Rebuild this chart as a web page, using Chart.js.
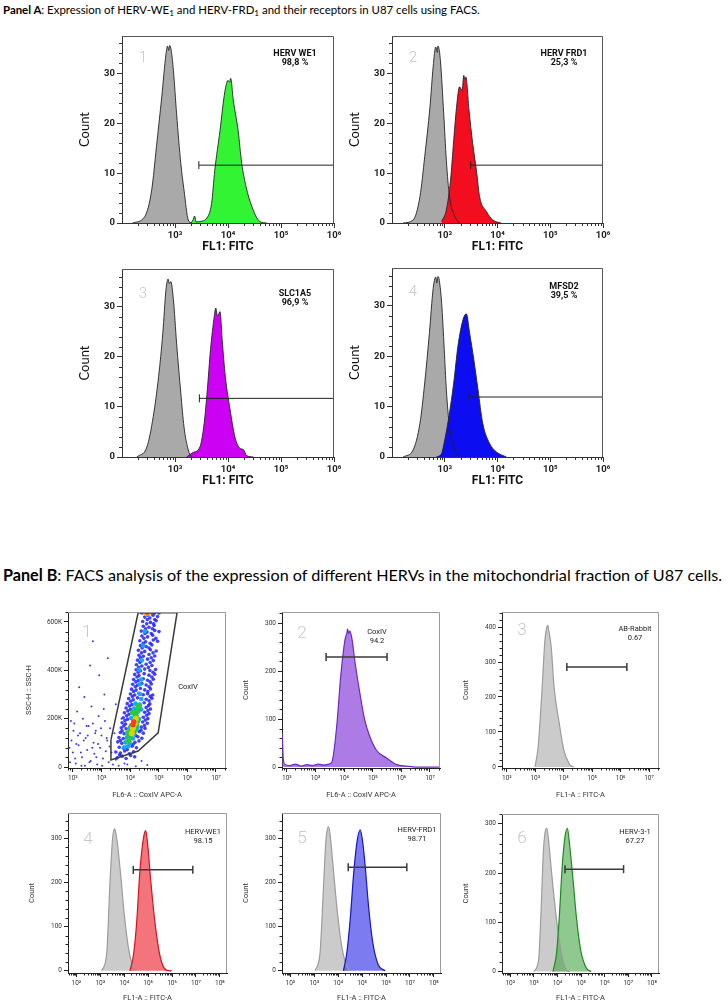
<!DOCTYPE html>
<html>
<head>
<meta charset="utf-8">
<title>FACS panels</title>
<script src="https://cdn.jsdelivr.net/npm/chart.js@4.4.1/dist/chart.umd.min.js"></script>
<style>
  html, body { margin: 0; padding: 0; background: #fff; }
  body { position: relative; width: 728px; height: 1003px; overflow: hidden; }
  canvas { position: absolute; }
  .panel-title { position: absolute; left: 3px; white-space: nowrap; font-family: Lato, 'Open Sans', sans-serif; color: #000; line-height: 1.2; }
  .panel-title sub { font-size: 0.72em; vertical-align: -0.3em; line-height: 0; }
</style>
</head>
<body>
<div class="panel-title" id="title-a"><b>Panel A</b>: Expression of HERV-WE<sub>1</sub> and HERV-FRD<sub>1</sub> and their receptors in U87 cells using FACS.</div>
<div class="panel-title" id="title-b"><b>Panel B</b>: FACS analysis of the expression of different HERVs in the mitochondrial fraction of U87 cells.</div>
<script>
// ---------- data (x = log10 of fluorescence, y = count) ----------

// Panel A tick labels
const aXDecades = [3, 4, 5, 6];
const aYTicks = [0, 10, 20, 30];
const aXRange = [2, 6];
const aYRange = [0, 37.5];

// Panel A histograms: [log10 FL1, count]
const a1Control = [[2.2,0],[2.43,1.3],[2.56,6.6],[2.65,15.3],[2.75,25.3],[2.83,33.9],[2.86,35.5],[2.88,34.6],[2.9,35.6],[2.93,34.5],[2.97,30.6],[3.03,21.9],[3.11,11.9],[3.17,6.6],[3.25,0.6],[3.31,0]];
const a1Stain = [[3.3,0],[3.34,0.6],[3.37,1.4],[3.4,0.2],[3.47,0.3],[3.6,1.0],[3.69,3.9],[3.75,10.5],[3.85,18.6],[3.94,26.3],[4.0,28.6],[4.03,28.2],[4.05,29],[4.1,24.6],[4.19,18.6],[4.26,11.9],[4.34,7.3],[4.45,3.3],[4.6,0.3],[4.73,0]];
const a2Control = [[2.21,0],[2.4,0.6],[2.53,5.3],[2.62,13.3],[2.72,23.3],[2.78,31.3],[2.83,35.3],[2.86,34.2],[2.87,35.5],[2.89,35],[2.92,32.3],[2.98,22],[3.03,12.6],[3.09,5.3],[3.19,1.3],[3.28,0]];
const a2Stain = [[2.94,0.3],[3.03,2.6],[3.11,8.6],[3.17,16.6],[3.23,23.9],[3.28,27.3],[3.33,26.6],[3.36,29.6],[3.38,28.8],[3.4,29.3],[3.46,22.6],[3.53,15.9],[3.6,10.6],[3.66,5.3],[3.79,2.3],[3.91,0.6],[4.07,0]];
const a3Control = [[2.28,0],[2.47,2],[2.59,8.1],[2.69,16],[2.77,24.7],[2.83,33.4],[2.87,35.5],[2.89,34.6],[2.92,35],[2.97,31.4],[3.03,22.7],[3.11,12.7],[3.17,6],[3.25,1.4],[3.31,0]];
const a3Stain = [[3.22,0],[3.34,0.9],[3.47,2],[3.55,6.7],[3.61,13.4],[3.67,21.4],[3.74,28],[3.77,29.7],[3.8,28.2],[3.82,28.4],[3.85,29],[3.89,23.4],[3.95,16],[4.04,9.4],[4.13,4],[4.23,1.7],[4.29,1.5],[4.35,0.3],[4.48,0]];
const a4Control = [[2.21,0],[2.4,1.4],[2.53,6.7],[2.62,14.7],[2.71,24.7],[2.78,33.4],[2.83,35.7],[2.85,34.5],[2.87,35.8],[2.89,35.4],[2.94,30.7],[2.99,21.4],[3.03,13.4],[3.09,6],[3.19,1.4],[3.28,0]];
const a4Stain = [[2.84,0],[2.94,0.7],[3.0,3.4],[3.08,8.1],[3.17,14.7],[3.25,22],[3.35,27.4],[3.41,28.4],[3.47,24.7],[3.55,19.4],[3.63,13.4],[3.72,6.7],[3.85,2.7],[3.98,1],[4.17,0]];

// Panel A gates: [start, end, level]
const a1Gate = [3.45, 6, 11.6];
const a2Gate = [3.49, 6, 11.6];
const a3Gate = [3.46, 6, 11.7];
const a4Gate = [3.46, 6, 11.9];

// Panel B tick labels
const bTopDecades = [2, 3, 4, 5, 6, 7];
const bBottomDecades = [2, 3, 4, 5, 6, 7, 8];
const bTopXRange = [1.83, 7.35];
const bBottomXRange = [1.65, 8.3];
const b1YTicks = [0, 200000, 400000, 600000];
const b2YTicks = [0, 100, 200, 300];
const b3YTicks = [0, 100, 200, 300, 400];
const bCountTicks = [0, 100, 200, 300];

// B1 dot plot: [log10 FL6, SSC-H in K]
const b1Sparse = [[1.88,80],[1.9,20],[1.93,190],[1.95,110],[2.0,60],[2.02,150],[2.05,180],[2.08,35],[2.1,15],[2.12,95],[2.15,230],[2.18,130],[2.2,90],[2.22,330],[2.25,140],[2.28,60],[2.3,5],[2.32,40],[2.35,200],[2.38,110],[2.4,290],[2.42,5],[2.45,120],[2.48,170],[2.5,70],[2.52,130],[2.55,170],[2.58,20],[2.6,420],[2.62,25],[2.65,250],[2.68,80],[2.7,180],[2.72,100],[2.75,55],[2.78,140],[2.8,150],[2.82,40],[2.85,10],[2.88,95],[2.9,210],[2.92,380],[2.95,80],[2.98,160],[3.0,130],[3.02,5],[3.05,35],[3.08,240],[3.1,300],[3.12,190],[3.15,65],[3.18,120],[3.2,110],[3.22,450],[3.25,20],[3.28,85],[3.3,160],[3.35,60],[3.4,10],[3.45,140],[3.5,30],[3.6,5],[3.8,15],[4.2,3],[4.6,8],[3.7,200],[3.5,260],[2.7,520],[3.9,10],[4.4,25]];
const b1Blue = [[3.55,38],[3.72,45],[3.86,35],[4.02,48],[4.16,42],[3.5,62],[3.66,58],[3.81,66],[3.97,55],[4.12,63],[3.62,82],[3.77,78],[4.07,86],[4.22,80],[3.57,104],[3.71,98],[4.17,102],[4.31,108],[3.61,122],[3.76,118],[4.27,125],[4.41,119],[3.66,143],[3.79,138],[4.32,146],[4.46,140],[3.69,162],[3.86,158],[4.39,165],[4.52,160],[3.72,183],[3.84,178],[4.44,186],[4.6,181],[3.76,204],[3.91,198],[4.46,206],[4.62,200],[3.8,224],[3.96,218],[4.51,226],[4.66,221],[3.86,244],[4.01,238],[4.56,246],[4.71,240],[3.9,262],[4.06,258],[4.49,266],[4.69,261],[3.95,283],[4.11,278],[4.26,286],[4.56,280],[4.76,284],[4.01,302],[4.16,298],[4.31,305],[4.46,299],[4.61,303],[4.79,298],[4.05,322],[4.21,318],[4.36,325],[4.51,319],[4.71,323],[4.09,342],[4.26,338],[4.41,345],[4.56,339],[4.74,343],[4.12,362],[4.29,358],[4.46,365],[4.61,359],[4.81,363],[4.16,383],[4.31,378],[4.49,386],[4.66,380],[4.86,384],[4.21,402],[4.36,398],[4.51,405],[4.69,399],[4.89,403],[4.22,423],[4.41,418],[4.56,425],[4.76,420],[4.26,442],[4.39,438],[4.61,446],[4.81,440],[4.31,462],[4.46,458],[4.66,465],[4.86,459],[4.29,483],[4.51,478],[4.71,485],[4.91,480],[4.36,502],[4.56,498],[4.76,505],[4.34,522],[4.54,518],[4.81,525],[4.96,520],[4.41,542],[4.61,538],[4.79,545],[4.39,562],[4.59,558],[4.86,565],[5.01,560],[4.46,582],[4.66,578],[4.84,585],[4.44,602],[4.71,598],[4.91,605],[4.51,620],[4.69,616],[4.96,622],[4.41,637],[4.56,637],[4.72,637],[4.86,637],[5.01,637],
    [3.63,50],[3.9,72],[4.1,94],[3.66,110],[4.2,130],[3.72,150],[4.38,152],[3.78,170],[4.5,172],[3.82,192],[4.53,194],[3.88,212],[4.58,214],[3.92,232],[4.62,234],[3.98,252],[4.64,254],[4.02,272],[4.66,274],[4.08,292],[4.7,292],[4.12,312],[4.62,312],[4.18,332],[4.66,332],[4.2,352],[4.7,352],[4.24,372],[4.76,372],[4.28,392],[4.8,392],[4.3,412],[4.64,412],[4.34,432],[4.7,432],[4.36,452],[4.74,452],[4.4,472],[4.8,472],[4.42,492],[4.66,492],[4.46,512],[4.7,512],[4.48,532],[4.9,532],[4.52,552],[4.74,552],[4.54,572],[4.78,572],[4.58,592],[4.82,592],[4.6,610],[4.86,610],[4.62,628],[4.8,628]];
const b1Cyan = [[3.8,82],[3.93,86],[3.84,102],[3.99,98],[3.89,122],[4.1,118],[3.94,142],[4.14,138],[3.99,162],[4.24,158],[4.04,203],[4.31,198],[4.14,242],[4.39,238],[4.19,262],[4.34,258],[4.39,281],[4.34,302],[4.34,342],[4.39,362],[4.31,402],[4.41,441],[4.46,501],[4.51,561]];
const b1Green = [[3.94,110],[4.0,130],[4.04,150],[4.16,152],[4.05,170],[4.22,172],[4.14,190],[4.26,192],[4.2,212],[4.26,232],[4.3,252],[3.92,140],[4.1,225]];
const b1Yellow = [[4.06,140],[4.1,160],[4.16,180],[4.2,200],[4.55,638],[4.64,638]];
const b1Red = [[4.1,175],[4.13,187],[4.6,640]];
const b1Gate = [[3.33,112],[4.28,638],[5.64,638],[4.98,141],[4.28,66],[3.33,29],[3.33,112]];

// B2-B6 histograms: [log10 intensity, count]
const b2Stain = [[1.84,70],[1.87,22],[1.92,6],[2.1,3],[2.3,6],[2.5,2],[2.7,5],[2.9,3],[3.1,6],[3.3,4],[3.45,6],[3.57,10],[3.74,84],[3.88,188],[4.03,265],[4.1,280],[4.12,288],[4.16,278],[4.2,283],[4.28,265],[4.37,223],[4.55,154],[4.72,98],[4.9,63],[5.13,35],[5.48,19],[5.84,5],[6.19,2],[6.5,0],[7.35,0]];
const b3Control = [[2.99,0],[3.1,57],[3.23,211],[3.34,363],[3.4,398],[3.44,405],[3.47,392],[3.56,343],[3.66,229],[3.84,126],[4.0,49],[4.2,8],[4.35,0]];
const b4Control = [[3.06,0],[3.27,40],[3.41,205],[3.52,303],[3.6,322],[3.63,318],[3.71,292],[3.86,213],[4.0,130],[4.17,55],[4.36,10],[4.52,0]];
const b4Stain = [[4.24,0],[4.38,33],[4.52,108],[4.66,228],[4.8,299],[4.9,318],[4.98,288],[5.11,205],[5.29,108],[5.5,33],[5.78,1],[5.99,0]];
const b5Control = [[3.03,0],[3.24,40],[3.38,184],[3.49,297],[3.59,327],[3.66,309],[3.8,229],[3.97,131],[4.15,55],[4.36,10],[4.5,0]];
const b5Stain = [[4.22,0],[4.36,40],[4.5,115],[4.66,229],[4.8,297],[4.92,320],[5.03,290],[5.13,237],[5.27,146],[5.45,63],[5.68,13],[5.96,0]];
const b6Control = [[2.99,0],[3.2,23],[3.3,118],[3.4,240],[3.47,281],[3.55,291],[3.64,257],[3.78,186],[3.96,105],[4.17,37],[4.38,3],[4.52,0]];
const b6Stain = [[3.81,0],[3.96,37],[4.07,105],[4.2,213],[4.31,271],[4.42,291],[4.52,254],[4.66,186],[4.8,111],[4.98,44],[5.22,7],[5.43,0]];

const b2Gate = [3.37, 5.5, 229];
const b3Gate = [4.11, 6.22, 286];
const b4Gate = [4.38, 6.87, 229];
const b5Gate = [4.42, 6.87, 235];
const b6Gate = [4.32, 6.8, 208];

// ---------- helpers ----------
const supDigits = {'-': '⁻', '0': '⁰', '1': '¹', '2': '²', '3': '³', '4': '⁴', '5': '⁵', '6': '⁶', '7': '⁷', '8': '⁸', '9': '⁹'};
function powerLabel(v) {
    const n = Math.round(Math.log10(v));
    return '10' + String(n).split('').map(c => supDigits[c]).join('');
}
function toPoints(list) {
    return list.map(p => ({x: Math.pow(10, p[0]), y: p[1]}));
}

// frame on top/right, minor ticks and in-plot texts
const framePlugin = {
    id: 'frame',
    afterDraw(chart, args, o) {
        if (!o || !o.color) return;
        const ctx = chart.ctx;
        const a = chart.chartArea;
        const xs = chart.scales.x, ys = chart.scales.y;
        ctx.save();
        ctx.strokeStyle = o.color;
        ctx.lineWidth = 1;
        ctx.beginPath();
        ctx.moveTo(a.left, a.top + 0.5);
        ctx.lineTo(a.right - 0.5, a.top + 0.5);
        ctx.lineTo(a.right - 0.5, a.bottom);
        ctx.stroke();

        ctx.strokeStyle = o.tickColor;
        ctx.beginPath();
        const lo = Math.floor(Math.log10(xs.min)), hi = Math.ceil(Math.log10(xs.max));
        for (let n = lo; n <= hi; n++) {
            for (let k = 2; k <= 9; k++) {
                const v = k * Math.pow(10, n);
                if (v < xs.min || v > xs.max) continue;
                const px = Math.round(xs.getPixelForValue(v)) + 0.5;
                ctx.moveTo(px, a.bottom);
                ctx.lineTo(px, a.bottom + o.minorLen);
            }
        }
        for (let v = Math.ceil(ys.min / o.yMinor) * o.yMinor; v <= ys.max; v += o.yMinor) {
            if (Math.abs(v / o.yMajor - Math.round(v / o.yMajor)) < 1e-6) continue;
            const py = Math.round(ys.getPixelForValue(v)) + 0.5;
            ctx.moveTo(a.left - o.minorLen, py);
            ctx.lineTo(a.left, py);
        }
        ctx.stroke();

        (o.texts || []).forEach(t => {
            ctx.font = t.font;
            ctx.fillStyle = t.color;
            ctx.textAlign = 'center';
            ctx.textBaseline = 'middle';
            t.lines.forEach((line, i) => ctx.fillText(line, a.left + t.x, a.top + t.y + i * t.gap));
        });
        ctx.restore();
    }
};
Chart.register(framePlugin);

function makeCanvas(f, m) {
    const c = document.createElement('canvas');
    c.width = m.l + f.w + m.r;
    c.height = m.t + f.h + m.b;
    c.style.left = (f.x - m.l) + 'px';
    c.style.top = (f.y - m.t) + 'px';
    document.body.appendChild(c);
    return c;
}

function xScale(range, decades, st, mb) {
    return {
        type: 'logarithmic',
        min: Math.pow(10, range[0]),
        max: Math.pow(10, range[1]),
        afterBuildTicks: s => { s.ticks = decades.map(n => ({value: Math.pow(10, n)})); },
        afterFit: s => { s.height = mb; },
        ticks: {callback: v => powerLabel(v), font: st.tickFont, color: st.tickColor, padding: st.tickPad, maxRotation: 0, autoSkip: false},
        grid: {drawOnChartArea: false, drawTicks: true, tickLength: st.tickLen, color: st.axisColor, lineWidth: 1},
        border: {display: true, color: st.axisColor, width: 1},
        title: {display: true, text: st.xTitle, font: st.xTitleFont, color: st.titleColor, padding: 0}
    };
}

function yScale(range, ticks, fmt, st, ml) {
    return {
        type: 'linear',
        min: range[0],
        max: range[1],
        afterBuildTicks: s => { s.ticks = ticks.map(v => ({value: v})); },
        afterFit: s => { s.width = ml; },
        ticks: {callback: fmt, font: st.tickFont, color: st.tickColor, padding: st.tickPad},
        grid: {drawOnChartArea: false, drawTicks: true, tickLength: st.tickLen, color: st.axisColor, lineWidth: 1},
        border: {display: true, color: st.axisColor, width: 1},
        title: {display: true, text: st.yTitle, font: st.yTitleFont, color: st.titleColor, padding: 0}
    };
}

function gateSet(gate, color, width, caps) {
    return {
        data: toPoints([[gate[0], gate[2]], [gate[1], gate[2]]]),
        borderColor: color, borderWidth: width, fill: false,
        pointStyle: 'line', rotation: 90, pointRadius: caps,
        pointBorderColor: color, pointBorderWidth: width, pointBackgroundColor: color
    };
}

function baseOptions(m, plot) {
    return {
        responsive: false,
        animation: false,
        events: [],
        layout: {padding: {top: m.t, right: m.r, left: 0, bottom: 0}},
        plugins: {
            legend: {display: false},
            tooltip: {enabled: false},
            filler: {drawTime: 'beforeDatasetsDraw'},
            frame: plot
        }
    };
}

function histogram(p, st) {
    const m = {l: p.ml, t: st.mt, r: st.mr, b: p.mb};
    const canvas = makeCanvas(p.frame, m);
    const datasets = [gateSet(p.gate, st.gateColor, st.gateWidth, p.caps)];
    p.series.forEach(s => datasets.push({
        data: toPoints(s.points),
        borderColor: s.line, backgroundColor: s.fill, borderWidth: st.lineWidth,
        fill: 'origin', pointRadius: 0, cubicInterpolationMode: 'monotone'
    }));
    const options = baseOptions(m, {
        color: st.frameColor, tickColor: st.axisColor, minorLen: st.minorLen,
        yMinor: p.yMinor, yMajor: p.yMajor, texts: p.texts
    });
    options.scales = {
        x: xScale(p.xRange, p.decades, st, p.mb),
        y: yScale(p.yRange, p.yTicks, v => String(v), st, p.ml)
    };
    if (p.xTitle) options.scales.x.title.text = p.xTitle;
    new Chart(canvas, {type: 'line', data: {datasets}, options});
}

// ---------- Panel A ----------
const styleA = {
    tickFont: {family: 'Roboto', size: 9.5, weight: 'bold'}, tickColor: '#222', tickPad: 2, tickLen: 5,
    axisColor: '#333', frameColor: '#555', minorLen: 3, lineWidth: 0.9,
    yTitle: 'Count', yTitleFont: {family: 'Lato', size: 13}, titleColor: '#111',
    xTitle: 'FL1: FITC', xTitleFont: {family: 'Roboto', size: 12, weight: 'bold'},
    gateColor: '#222', gateWidth: 1, mt: 12, mr: 12
};
const aGray = {line: '#222', fill: '#a9a9a9'};
const labelFontA = 'bold 9px Roboto';
const numFontA = '300 15px Roboto';

function aPlot(frame, control, stain, color, gate, label, labelY, num, numY) {
    return {
        frame, ml: 45, mb: 31, caps: [4, 0],
        xRange: aXRange, decades: aXDecades, yRange: aYRange, yTicks: aYTicks, yMinor: 2, yMajor: 10,
        gate,
        series: [{points: stain, line: '#222', fill: color}, {points: control, line: aGray.line, fill: aGray.fill}],
        texts: [
            {lines: label, x: frame.w - 39, y: labelY, gap: 9, font: labelFontA, color: '#111'},
            {lines: [num], x: 21, y: numY, gap: 0, font: numFontA, color: '#c4c4c4'}
        ]
    };
}

histogram(aPlot({x: 122, y: 36, w: 212, h: 187}, a1Control, a1Stain, '#33f433', a1Gate, ['HERV WE1', '98,8 %'], 18, '1', 22), styleA);
histogram(aPlot({x: 392, y: 36, w: 211, h: 187}, a2Control, a2Stain, '#f20d1f', a2Gate, ['HERV FRD1', '25,3 %'], 18, '2', 22), styleA);
histogram(aPlot({x: 122, y: 269, w: 212, h: 188}, a3Control, a3Stain, '#cc00f2', a3Gate, ['SLC1A5', '96,9 %'], 25, '3', 25), styleA);
histogram(aPlot({x: 392, y: 268, w: 211, h: 189}, a4Control, a4Stain, '#0d0df2', a4Gate, ['MFSD2', '39,5 %'], 19, '4', 24), styleA);

// ---------- Panel B ----------
const styleB = {
    tickFont: {family: 'Roboto', size: 6.5}, tickColor: '#333', tickPad: 2, tickLen: 4,
    axisColor: '#222', frameColor: '#9a9a9a', minorLen: 2.5, lineWidth: 1.2,
    yTitle: 'Count', yTitleFont: {family: 'Roboto', size: 7.5}, titleColor: '#333',
    xTitle: 'FL1-A :: FITC-A', xTitleFont: {family: 'Roboto', size: 7.5},
    gateColor: '#3a3a3a', gateWidth: 1.5, mt: 10, mr: 10
};
const bGray = {line: '#9c9c9c', fill: 'rgba(185,185,185,0.75)'};
const labelFontB = '7.5px Roboto';
const numFontB = '300 17px Roboto';

function bPlot(frame, row, series, gate, yRange, yTicks, label, labelY, num, numY) {
    return {
        frame, ml: 40, mb: row === 0 ? 32 : 30, caps: [4, 4],
        xRange: row === 0 ? bTopXRange : bBottomXRange,
        decades: row === 0 ? bTopDecades : bBottomDecades,
        yRange, yTicks, yMinor: 20, yMajor: 100, gate, series,
        texts: [
            {lines: label, x: frame.w - 24, y: labelY, gap: 9, font: labelFontB, color: '#222'},
            {lines: [num], x: 20, y: numY, gap: 0, font: numFontB, color: '#c8c8c8'}
        ]
    };
}

const b2 = bPlot({x: 282, y: 612, w: 158, h: 156}, 0,
    [{points: b2Stain, line: '#6a2cc4', fill: 'rgba(158,100,226,0.85)'}],
    b2Gate, [-2, 323], b2YTicks, ['CoxIV', '94.2'], 20, '2', 22);
b2.texts[0].x = 95;
b2.xTitle = 'FL6-A :: CoxIV APC-A';
histogram(b2, styleB);

histogram(bPlot({x: 502, y: 612, w: 157, h: 156}, 0,
    [{points: b3Control, line: bGray.line, fill: bGray.fill}],
    b3Gate, [-3, 443], b3YTicks, ['AB-Rabbit', '0.67'], 17, '3', 19), styleB);

histogram(bPlot({x: 68, y: 813, w: 159, h: 160}, 1,
    [{points: b4Stain, line: '#d4121f', fill: 'rgba(240,70,80,0.75)'}, {points: b4Control, line: bGray.line, fill: bGray.fill}],
    b4Gate, [-5, 358], bCountTicks, ['HERV-WE1', '98.15'], 19, '4', 27), styleB);

histogram(bPlot({x: 282, y: 813, w: 159, h: 160}, 1,
    [{points: b5Stain, line: '#1414c8', fill: 'rgba(80,80,235,0.75)'}, {points: b5Control, line: bGray.line, fill: bGray.fill}],
    b5Gate, [-5, 358], bCountTicks, ['HERV-FRD1', '98.71'], 17, '5', 26), styleB);

histogram(bPlot({x: 502, y: 814, w: 157, h: 159}, 1,
    [{points: b6Stain, line: '#1e8a1e', fill: 'rgba(70,165,70,0.6)'}, {points: b6Control, line: bGray.line, fill: bGray.fill}],
    b6Gate, [-3, 320], bCountTicks, ['HERV-3-1', '67.27'], 18, '6', 25), styleB);

// B1: SSC-H vs CoxIV dot plot with gate
(function () {
    const frame = {x: 68, y: 612, w: 158, h: 156};
    const m = {l: 43, t: styleB.mt, r: styleB.mr, b: 32};
    const canvas = makeCanvas(frame, m);
    const k = list => list.map(p => [p[0], p[1] * 1000]);
    const dots = (list, color, r) => ({
        data: toPoints(k(list)), backgroundColor: color, pointRadius: r, pointBorderWidth: 0, showLine: false
    });
    const datasets = [
        {data: toPoints(k(b1Gate)), showLine: true, borderColor: '#3a3a3a', borderWidth: 1.5, pointRadius: 0, fill: false},
        dots(b1Red, '#ff3b1f', 2.6),
        dots(b1Yellow, '#d8d400', 3.0),
        dots(b1Green, '#28c846', 3.0),
        dots(b1Cyan, '#10a8ff', 2.3),
        dots(b1Blue, 'rgba(30,30,255,0.85)', 1.8),
        dots(b1Sparse, '#3a3aee', 1.0)
    ];
    const options = baseOptions(m, {
        color: styleB.frameColor, tickColor: styleB.axisColor, minorLen: styleB.minorLen,
        yMinor: 40000, yMajor: 200000,
        texts: [
            {lines: ['CoxIV'], x: 120, y: 75, gap: 0, font: labelFontB, color: '#222'},
            {lines: ['1'], x: 19, y: 21, gap: 0, font: numFontB, color: '#c8c8c8'}
        ]
    });
    const st = Object.assign({}, styleB, {xTitle: 'FL6-A :: CoxIV APC-A', yTitle: 'SSC-H :: SSC-H'});
    options.scales = {
        x: xScale(bTopXRange, bTopDecades, st, m.b),
        y: yScale([-4000, 641000], b1YTicks, v => v === 0 ? '0' : (v / 1000) + 'K', st, m.l)
    };
    new Chart(canvas, {type: 'scatter', data: {datasets}, options});
})();

// ---------- titles ----------
function fitTitle(id, width, centerY) {
    const el = document.getElementById(id);
    el.style.fontSize = '14px';
    const w = el.getBoundingClientRect().width;
    el.style.fontSize = (14 * width / w) + 'px';
    el.style.top = (centerY - el.getBoundingClientRect().height / 2) + 'px';
}
fitTitle('title-a', 477, 10);
fitTitle('title-b', 720, 575);
</script>
</body>
</html>
